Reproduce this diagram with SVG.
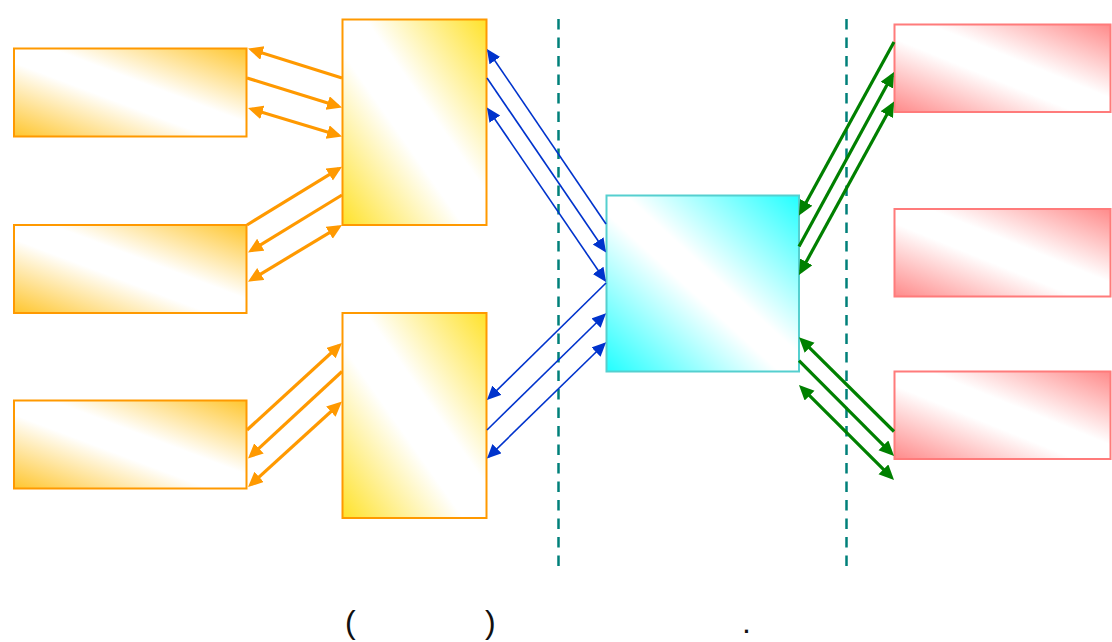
<svg xmlns="http://www.w3.org/2000/svg" width="1112" height="642" viewBox="0 0 1112 642">
<style>
.box-o{stroke:#FF9900;stroke-width:2}
.box-c{stroke:#55CFCF;stroke-width:2}
.box-r{stroke:#FF7B7B;stroke-width:2}
.sep{stroke:#00807A;stroke-width:2.5;stroke-dasharray:10.5,8;fill:none}
.co{stroke:#FF9900;stroke-width:3.2;fill:none}
.cb{stroke:#0033CC;stroke-width:1.6;fill:none}
.cg{stroke:#008000;stroke-width:3.2;fill:none}
.txt{font-family:"Liberation Sans",Arial,sans-serif;font-size:32px;fill:#111}
</style>
<defs>
<linearGradient id="gOrange" x1="0" y1="1" x2="1" y2="0">
<stop offset="0" stop-color="#FFC62E"/><stop offset="0.42" stop-color="#FFFFFF"/><stop offset="0.58" stop-color="#FFFFFF"/><stop offset="1" stop-color="#FFC62E"/>
</linearGradient>
<linearGradient id="gYellow" x1="0" y1="1" x2="1" y2="0">
<stop offset="0" stop-color="#FFE22A"/><stop offset="0.42" stop-color="#FFFFFF"/><stop offset="0.58" stop-color="#FFFFFF"/><stop offset="1" stop-color="#FFE22A"/>
</linearGradient>
<linearGradient id="gCyan" x1="0" y1="1" x2="1" y2="0">
<stop offset="0" stop-color="#22FFFF"/><stop offset="0.45" stop-color="#FFFFFF"/><stop offset="0.55" stop-color="#FFFFFF"/><stop offset="1" stop-color="#22FFFF"/>
</linearGradient>
<linearGradient id="gRed" x1="0" y1="1" x2="1" y2="0">
<stop offset="0" stop-color="#FF8A8A"/><stop offset="0.42" stop-color="#FFFFFF"/><stop offset="0.58" stop-color="#FFFFFF"/><stop offset="1" stop-color="#FF8A8A"/>
</linearGradient>
<marker id="aO" markerUnits="userSpaceOnUse" markerWidth="16" markerHeight="15" refX="11" refY="7" orient="auto-start-reverse">
<path d="M0,0 L15,7 L0,14 z" fill="#FF9900"/>
</marker>
<marker id="aB" markerUnits="userSpaceOnUse" markerWidth="15" markerHeight="14" refX="12" refY="6.5" orient="auto-start-reverse">
<path d="M0,0 L14,6.5 L0,13 z" fill="#0033CC"/>
</marker>
<marker id="aG" markerUnits="userSpaceOnUse" markerWidth="16" markerHeight="15" refX="11" refY="7" orient="auto-start-reverse">
<path d="M0,0 L15,7 L0,14 z" fill="#008000"/>
</marker>
</defs>
<rect width="1112" height="642" fill="#FFFFFF"/>
<g id="separators">
<line class="sep" x1="558.5" y1="19" x2="558.5" y2="572"/>
<line class="sep" x1="846.5" y1="19" x2="846.5" y2="572"/>
</g>
<g id="nodeA"><rect class="box-o" x="14" y="48.5" width="232.5" height="88" fill="url(#gOrange)"/></g>
<g id="nodeB"><rect class="box-o" x="14" y="225" width="232.5" height="88" fill="url(#gOrange)"/></g>
<g id="nodeC"><rect class="box-o" x="14" y="400.5" width="232.5" height="88" fill="url(#gOrange)"/></g>
<g id="nodeM1"><rect class="box-o" x="342.5" y="19.5" width="144" height="205.5" fill="url(#gYellow)"/></g>
<g id="nodeM2"><rect class="box-o" x="342.5" y="313" width="144" height="205" fill="url(#gYellow)"/></g>
<g id="nodeHub"><rect class="box-c" x="606.5" y="195.5" width="192.5" height="176" fill="url(#gCyan)"/></g>
<g id="nodeR1"><rect class="box-r" x="894.5" y="24.5" width="216" height="87.5" fill="url(#gRed)"/></g>
<g id="nodeR2"><rect class="box-r" x="894.5" y="209" width="216" height="87.5" fill="url(#gRed)"/></g>
<g id="nodeR3"><rect class="box-r" x="894.5" y="371.5" width="216" height="87.5" fill="url(#gRed)"/></g>
<g id="connectors">
<path class="co" d="M342,78 L251.8,49.7" marker-end="url(#aO)"/>
<path class="co" d="M247,78 L338.2,106.3" marker-end="url(#aO)"/>
<path class="co" d="M251.8,109.2 L338.2,135.3" marker-start="url(#aO)" marker-end="url(#aO)"/>
<path class="co" d="M247,225 L338.6,168.8" marker-end="url(#aO)"/>
<path class="co" d="M342,195 L251.4,250.4" marker-end="url(#aO)"/>
<path class="co" d="M251.4,279.6 L338.6,227.1" marker-start="url(#aO)" marker-end="url(#aO)"/>
<path class="co" d="M247,430 L339,345.7" marker-end="url(#aO)"/>
<path class="co" d="M342,371.5 L250.9,455.8" marker-end="url(#aO)"/>
<path class="co" d="M251,484.3 L339,404.2" marker-start="url(#aO)" marker-end="url(#aO)"/>
<path class="cb" d="M606,224 L488.1,50.7" marker-end="url(#aB)"/>
<path class="cb" d="M487,78 L604.9,250.8" marker-end="url(#aB)"/>
<path class="cb" d="M488.1,109.2 L604.9,280.3" marker-start="url(#aB)" marker-end="url(#aB)"/>
<path class="cb" d="M606,283 L488.4,398.6" marker-end="url(#aB)"/>
<path class="cb" d="M487,430 L604.6,314.7" marker-end="url(#aB)"/>
<path class="cb" d="M488.4,457.1 L604.6,343.7" marker-start="url(#aB)" marker-end="url(#aB)"/>
<path class="cg" d="M894,42 L800.9,212" marker-end="url(#aG)"/>
<path class="cg" d="M799,246.5 L892.1,75.5" marker-end="url(#aG)"/>
<path class="cg" d="M800.9,271.5 L892.1,105" marker-start="url(#aG)" marker-end="url(#aG)"/>
<path class="cg" d="M894,431.5 L801.8,340.1" marker-end="url(#aG)"/>
<path class="cg" d="M799,360.7 L891.2,453.2" marker-end="url(#aG)"/>
<path class="cg" d="M801.8,387.8 L891.2,477.2" marker-start="url(#aG)" marker-end="url(#aG)"/>
</g>
<g id="caption">
<text class="txt" x="345" y="633">(</text>
<text class="txt" x="485" y="633">)</text>
<text class="txt" x="742" y="633">.</text>
</g>
</svg>
